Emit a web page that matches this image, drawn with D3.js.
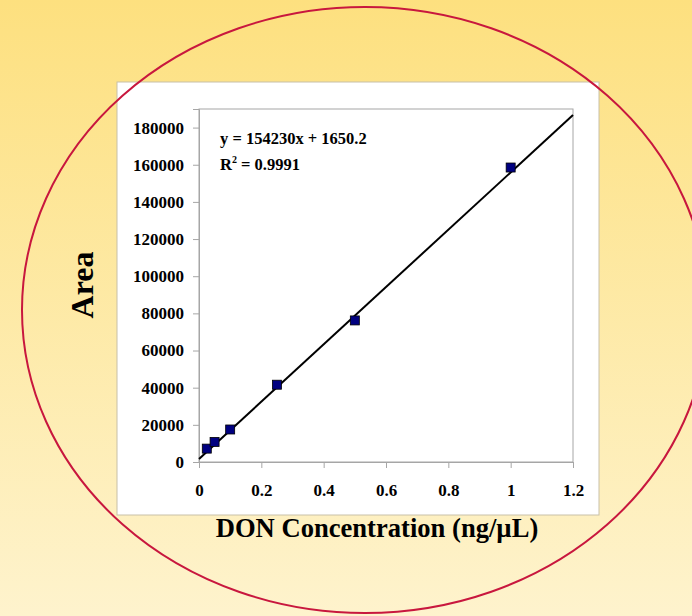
<!DOCTYPE html>
<html>
<head>
<meta charset="utf-8">
<script src="https://cdn.jsdelivr.net/npm/d3@7"></script>
<style>
  body { margin: 0; }
  text { font-family: "Liberation Serif", "Times New Roman", serif; font-weight: bold; }
</style>
</head>
<body>
<div id="chart"></div>
<script>
// standard curve data
var conc = [0.025, 0.05, 0.1, 0.25, 0.5, 1];
var area = [7200, 10800, 17500, 41600, 76200, 158500];
var slope = 154230, intercept = 1650.2;
var xTicks = [0, 0.2, 0.4, 0.6, 0.8, 1, 1.2];
var yTicks = [0, 20000, 40000, 60000, 80000, 100000, 120000, 140000, 160000, 180000];

var W = 692, H = 616;
var margin = { top: 109, left: 199, right: 119, bottom: 154 },
    width = W - margin.left - margin.right,
    height = H - margin.top - margin.bottom;

var svg = d3.select("#chart")
    .append("svg")
    .attr("width", W)
    .attr("height", H);

var grad = svg.append("defs").append("linearGradient")
    .attr("id", "bg").attr("x1", 0).attr("y1", 0).attr("x2", 0).attr("y2", 1);
grad.append("stop").attr("offset", "0%").attr("stop-color", "#fde07f");
grad.append("stop").attr("offset", "100%").attr("stop-color", "#fef3cd");

svg.append("rect").attr("width", W).attr("height", H).style("fill", "url(#bg)");

// white chart box
svg.append("rect")
    .attr("x", 117).attr("y", 82).attr("width", 482).attr("height", 433)
    .style("fill", "#fff")
    .style("stroke", "#c8c0a8").style("stroke-width", 1);

var g = svg.append("g")
    .attr("transform", "translate(" + margin.left + "," + margin.top + ")");

var x = d3.scaleLinear().domain([0, 1.2]).range([0, width]);
var y = d3.scaleLinear().domain([0, 190000]).range([height, 0]);

// plot area border
g.append("rect")
    .attr("width", width).attr("height", height)
    .style("fill", "none").style("stroke", "#a6a6a6");

var xAxis = g.append("g")
    .attr("transform", "translate(0," + height + ")")
    .call(d3.axisBottom(x).tickValues(xTicks).tickSize(6).tickPadding(16).tickFormat(d3.format("")));
var yAxis = g.append("g")
    .call(d3.axisLeft(y).tickValues(yTicks).tickSize(6).tickPadding(9).tickFormat(d3.format("")));

[xAxis, yAxis].forEach(function (a) {
    a.select(".domain").style("stroke", "#a6a6a6");
    a.selectAll(".tick line").style("stroke", "#a6a6a6");
    a.selectAll("text")
        .style("font-family", "'Liberation Serif', serif")
        .style("font-weight", "bold")
        .style("font-size", "17px")
        .style("fill", "#000");
});

// trendline
g.append("line")
    .attr("x1", x(0)).attr("y1", y(intercept))
    .attr("x2", x(1.2)).attr("y2", y(slope * 1.2 + intercept))
    .style("stroke", "#000").style("stroke-width", 2);

g.selectAll(".pt")
    .data(conc)
    .enter()
    .append("rect")
    .attr("class", "pt")
    .attr("x", function (d) { return x(d) - 4.5; })
    .attr("y", function (d, i) { return y(area[i]) - 4.5; })
    .attr("width", 9).attr("height", 9)
    .style("fill", "#000080")
    .style("stroke", "#000").style("stroke-width", 0.8);

// equation
g.append("text").attr("x", 21).attr("y", 35)
    .style("font-size", "16.5px")
    .text("y = 154230x + 1650.2");
var r2 = g.append("text").attr("x", 21).attr("y", 61).style("font-size", "16.5px");
r2.append("tspan").text("R");
r2.append("tspan").attr("dy", -7).style("font-size", "10px").text("2");
r2.append("tspan").attr("dy", 7).text(" = 0.9991");

// axis titles
svg.append("text")
    .attr("transform", "translate(93,285) rotate(-90)")
    .attr("text-anchor", "middle")
    .style("font-size", "32px")
    .text("Area");
svg.append("text")
    .attr("transform", "translate(377,537) scale(0.95,1)")
    .attr("text-anchor", "middle")
    .style("font-size", "28px")
    .text("DON Concentration (ng/\u00b5L)");

// red ellipse
svg.append("ellipse")
    .attr("cx", 365).attr("cy", 310).attr("rx", 343).attr("ry", 303)
    .style("fill", "none")
    .style("stroke", "#c8173e").style("stroke-width", 2);
</script>
</body>
</html>
